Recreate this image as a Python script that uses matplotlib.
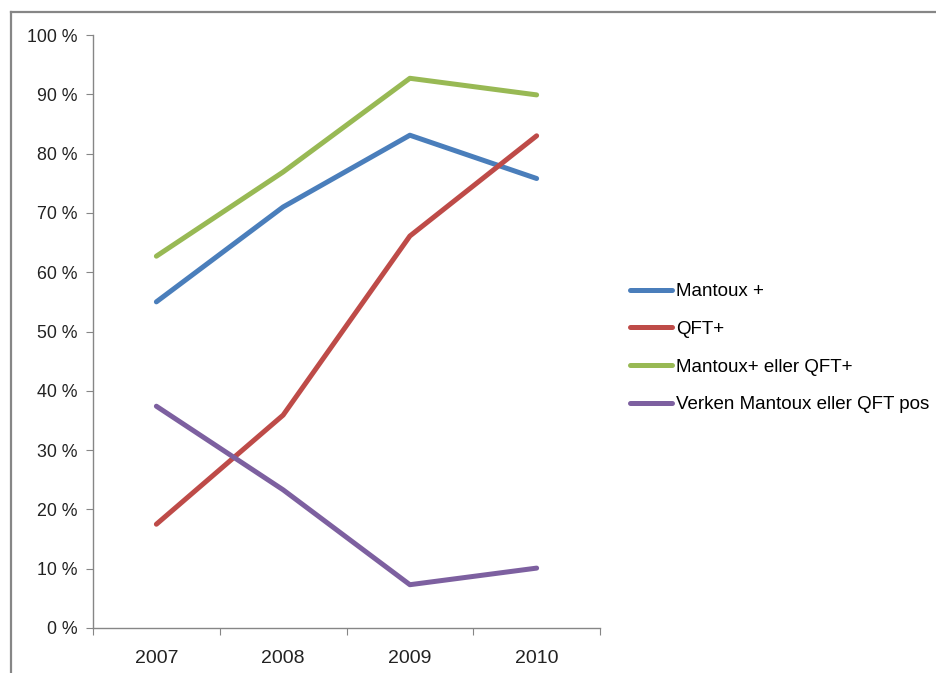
import matplotlib
matplotlib.use("Agg")
import matplotlib.pyplot as plt
from matplotlib.lines import Line2D

plt.rcParams['font.family'] = ['Liberation Sans', 'DejaVu Sans']

years = ["2007", "2008", "2009", "2010"]
mantoux = [55.0, 71.0, 83.1, 75.8]
qft = [17.5, 35.9, 66.1, 83.0]
either = [62.7, 76.9, 92.7, 89.9]
neither = [37.4, 23.3, 7.3, 10.1]
series_names = ["Mantoux +", "QFT+", "Mantoux+ eller QFT+", "Verken Mantoux eller QFT pos"]
colors = ["#4A7EBB", "#BE4B48", "#98B954", "#7D60A0"]
yticks = list(range(0, 101, 10))
ytick_labels = [f"{v} %" for v in yticks]

fig = plt.figure(figsize=(9.36, 6.73), dpi=100)
fig.patch.set_facecolor("white")

# outer frame (left and top edges visible)
fig.add_artist(Line2D([11/936, 11/936], [0, 1 - 12/673], transform=fig.transFigure,
                      color="#868686", lw=1.6))
fig.add_artist(Line2D([11/936, 1], [1 - 12/673, 1 - 12/673], transform=fig.transFigure,
                      color="#868686", lw=1.6))

ax = fig.add_axes([93/936, 1 - 628/673, (600 - 93)/936, (628 - 35)/673])
x = list(range(len(years)))
handles = []
for vals, name, c in zip([mantoux, qft, either, neither], series_names, colors):
    h, = ax.plot(x, vals, color=c, lw=3.6, solid_capstyle="round", label=name)
    handles.append(h)

ax.set_xlim(-0.5, len(years) - 0.5)
ax.set_ylim(0, 100)
ax.set_yticks(yticks)
ax.set_yticklabels(ytick_labels, fontsize=12.8, color="#222222")
ax.set_xticks([i - 0.5 for i in range(len(years) + 1)])
ax.set_xticklabels([])
ax.set_xticks(x, minor=True)
ax.set_xticklabels(years, minor=True, fontsize=14, color="#222222")
ax.tick_params(axis="x", which="minor", length=0, pad=16)
ax.tick_params(axis="x", which="major", length=5, color="#868686", direction="out")
ax.tick_params(axis="y", length=5, color="#868686", direction="out", pad=6)
for s in ["top", "right"]:
    ax.spines[s].set_visible(False)
for s in ["left", "bottom"]:
    ax.spines[s].set_color("#868686")
    ax.spines[s].set_linewidth(1.0)

leg = fig.legend(handles=handles, loc="upper left",
                 bbox_to_anchor=(630/936, 1 - 283/673), frameon=False,
                 fontsize=13.5, handlelength=2.25, handletextpad=0.2,
                 labelspacing=1.1, borderpad=0, borderaxespad=0)

fig.savefig("out.png", dpi=100, facecolor="white")
